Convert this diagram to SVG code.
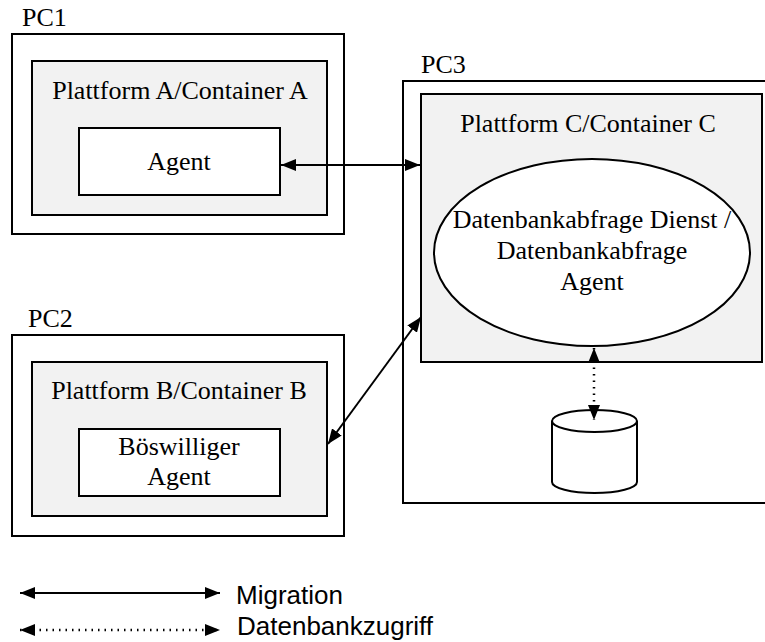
<svg xmlns="http://www.w3.org/2000/svg" width="765" height="642" viewBox="0 0 765 642">
  <style>
    .pc { fill: #ffffff; stroke: #000; stroke-width: 2; }
    .plat { fill: #f2f2f2; stroke: #000; stroke-width: 2; }
    .box { fill: #ffffff; stroke: #000; stroke-width: 2; }
    .t { font-family: "Liberation Serif", "Times New Roman", serif; font-size: 26px; fill: #000; }
    .mid { text-anchor: middle; }
    .leg { font-family: "Liberation Sans", Arial, sans-serif; font-size: 26px; fill: #000; }
    .mig { fill: none; stroke: #000; stroke-width: 2; }
    .db { fill: none; stroke: #000; stroke-width: 2.5; stroke-dasharray: 1.5 5; }
  </style>
  <defs>
    <marker id="ah" viewBox="0 0 15 12" refX="15" refY="6" markerWidth="15" markerHeight="12" markerUnits="userSpaceOnUse" orient="auto-start-reverse">
      <path d="M0,0 L15,6 L0,12 Z" fill="#000"/>
    </marker>
  </defs>

  <rect width="765" height="642" fill="#ffffff"/>

  <!-- PC1 -->
  <g id="pc1">
    <text class="t" x="22" y="26">PC1</text>
    <rect class="pc" x="12" y="34" width="332" height="200"/>
    <rect class="plat" x="32" y="61" width="295" height="154"/>
    <text class="t mid" x="180" y="99">Plattform A/Container A</text>
  </g>
  <g id="agent-a">
    <rect class="box" x="79" y="128" width="201" height="67"/>
    <text class="t mid" x="179" y="170">Agent</text>
  </g>

  <!-- PC2 -->
  <g id="pc2">
    <text class="t" x="28" y="327">PC2</text>
    <rect class="pc" x="12" y="335" width="332" height="201"/>
    <rect class="plat" x="32" y="362" width="295" height="154"/>
    <text class="t mid" x="179" y="399">Plattform B/Container B</text>
  </g>
  <g id="agent-b">
    <rect class="box" x="79" y="429" width="201" height="67"/>
    <text class="t mid" x="179" y="455">Böswilliger</text>
    <text class="t mid" x="179" y="485">Agent</text>
  </g>

  <!-- PC3 -->
  <g id="pc3">
    <text class="t" x="421" y="73">PC3</text>
    <rect class="pc" x="403" y="81" width="380" height="422"/>
    <rect class="plat" x="421" y="94" width="341" height="268"/>
    <text class="t mid" x="588" y="132">Plattform C/Container C</text>
  </g>
  <g id="dienst">
    <ellipse cx="592" cy="252.5" rx="158" ry="93.5" fill="#ffffff" stroke="#000" stroke-width="2"/>
    <text class="t mid" x="592" y="228">Datenbankabfrage Dienst /</text>
    <text class="t mid" x="592" y="259">Datenbankabfrage</text>
    <text class="t mid" x="592" y="290">Agent</text>
  </g>
  <g id="datenbank">
    <path d="M552,421 L552,482 A42.5,11 0 0 0 637,482 L637,421" fill="#ffffff" stroke="#000" stroke-width="2"/>
    <ellipse cx="594.5" cy="421" rx="42.5" ry="11" fill="#ffffff" stroke="#000" stroke-width="2"/>
  </g>

  <!-- connectors -->
  <g id="connectors">
    <line class="mig" x1="281" y1="165" x2="420" y2="165" marker-start="url(#ah)" marker-end="url(#ah)"/>
    <line class="mig" x1="328" y1="444" x2="421" y2="317" marker-start="url(#ah)" marker-end="url(#ah)"/>
    <line class="db" x1="594" y1="348" x2="594" y2="420" marker-start="url(#ah)" marker-end="url(#ah)"/>
  </g>

  <!-- legend -->
  <g id="legende">
    <line class="mig" x1="20" y1="593" x2="220" y2="593" marker-start="url(#ah)" marker-end="url(#ah)"/>
    <text class="leg" x="236" y="604">Migration</text>
    <line class="db" x1="20" y1="630" x2="220" y2="630" stroke-width="2" stroke-dasharray="1.2 4" marker-start="url(#ah)" marker-end="url(#ah)"/>
    <text class="leg" x="237" y="635">Datenbankzugriff</text>
  </g>
</svg>
